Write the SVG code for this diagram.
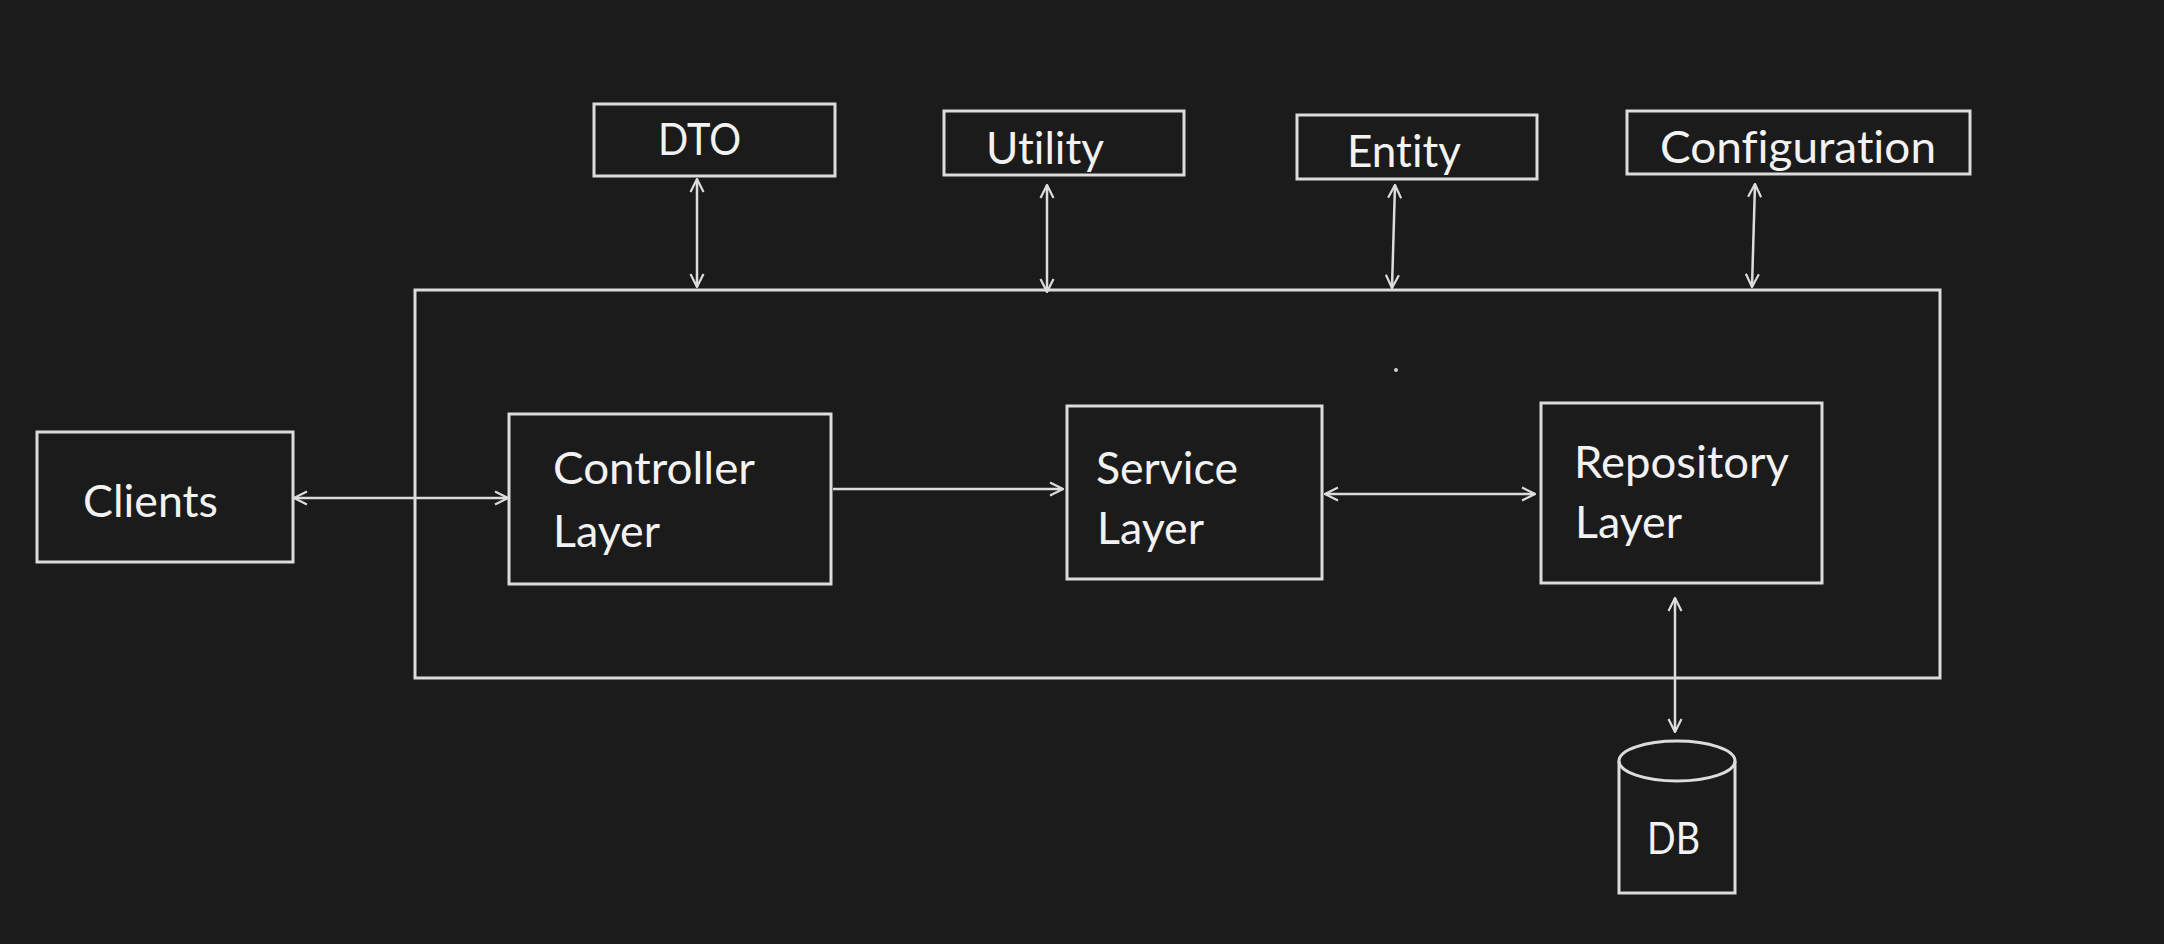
<svg xmlns="http://www.w3.org/2000/svg" width="2164" height="944" viewBox="0 0 2164 944">
<style>
.box{fill:none;stroke:#dcdcdc;stroke-width:3}
.lbl{font-family:Lato,"Open Sans","Liberation Sans",sans-serif;font-size:44px;fill:#f2f2f2;font-variant-ligatures:none;font-feature-settings:"liga" 0,"clig" 0}
.con{fill:none;stroke:#dcdcdc;stroke-width:2.5}
</style>
<defs>
<marker id="ah" viewBox="0 0 16 16" refX="15" refY="8" markerWidth="16" markerHeight="16" markerUnits="userSpaceOnUse" orient="auto-start-reverse">
<path d="M2,1.5 L15,8 L2,14.5" fill="none" stroke="#dcdcdc" stroke-width="2.2"/>
</marker>
</defs>
<rect width="2164" height="944" fill="#1b1b1b"/>
<g id="main"><rect class="box" x="415" y="290" width="1525" height="388"/></g>
<g id="dto"><rect class="box" x="594" y="104" width="241" height="72"/><text class="lbl" x="658" y="155" textLength="83" lengthAdjust="spacingAndGlyphs">DTO</text></g>
<g id="utility"><rect class="box" x="944" y="111" width="240" height="64"/><text class="lbl" x="986" y="164" textLength="118" lengthAdjust="spacingAndGlyphs">Utility</text></g>
<g id="entity"><rect class="box" x="1297" y="115" width="240" height="64"/><text class="lbl" x="1347" y="167" textLength="114" lengthAdjust="spacingAndGlyphs">Entity</text></g>
<g id="configuration"><rect class="box" x="1627" y="111" width="343" height="63"/><text class="lbl" x="1660" y="163" textLength="276" lengthAdjust="spacingAndGlyphs">Configuration</text></g>
<g id="clients"><rect class="box" x="37" y="432" width="256" height="130"/><text class="lbl" x="83" y="517" textLength="135" lengthAdjust="spacingAndGlyphs">Clients</text></g>
<g id="controller"><rect class="box" x="509" y="414" width="322" height="170"/><text class="lbl" x="553" y="484" textLength="202" lengthAdjust="spacingAndGlyphs">Controller</text><text class="lbl" x="553" y="547" textLength="107" lengthAdjust="spacingAndGlyphs">Layer</text></g>
<g id="service"><rect class="box" x="1067" y="406" width="255" height="173"/><text class="lbl" x="1096" y="484" textLength="142" lengthAdjust="spacingAndGlyphs">Service</text><text class="lbl" x="1097" y="544" textLength="107" lengthAdjust="spacingAndGlyphs">Layer</text></g>
<g id="repository"><rect class="box" x="1541" y="403" width="281" height="180"/><text class="lbl" x="1574" y="478" textLength="215" lengthAdjust="spacingAndGlyphs">Repository</text><text class="lbl" x="1575" y="538" textLength="107" lengthAdjust="spacingAndGlyphs">Layer</text></g>
<g id="db"><path class="box" d="M1619,761 L1619,893 L1735,893 L1735,761"/><ellipse class="box" cx="1677" cy="761" rx="58" ry="20"/><text class="lbl" x="1647" y="854" textLength="53" lengthAdjust="spacingAndGlyphs">DB</text></g>
<g id="dot"><circle cx="1396" cy="370" r="2" fill="#cfcfcf"/></g>
<g id="connectors">
<line class="con" x1="697" y1="179" x2="697" y2="287" marker-start="url(#ah)" marker-end="url(#ah)"/>
<line class="con" x1="1047" y1="185" x2="1047" y2="292" marker-start="url(#ah)" marker-end="url(#ah)"/>
<line class="con" x1="1395" y1="185" x2="1392" y2="288" marker-start="url(#ah)" marker-end="url(#ah)"/>
<line class="con" x1="1755" y1="184" x2="1752" y2="287" marker-start="url(#ah)" marker-end="url(#ah)"/>
<line class="con" x1="294" y1="498" x2="508" y2="498" marker-start="url(#ah)" marker-end="url(#ah)"/>
<line class="con" x1="833" y1="489" x2="1063" y2="489" marker-end="url(#ah)"/>
<line class="con" x1="1325" y1="494" x2="1535" y2="494" marker-start="url(#ah)" marker-end="url(#ah)"/>
<line class="con" x1="1675" y1="598" x2="1675" y2="732" marker-start="url(#ah)" marker-end="url(#ah)"/>
</g>
</svg>
